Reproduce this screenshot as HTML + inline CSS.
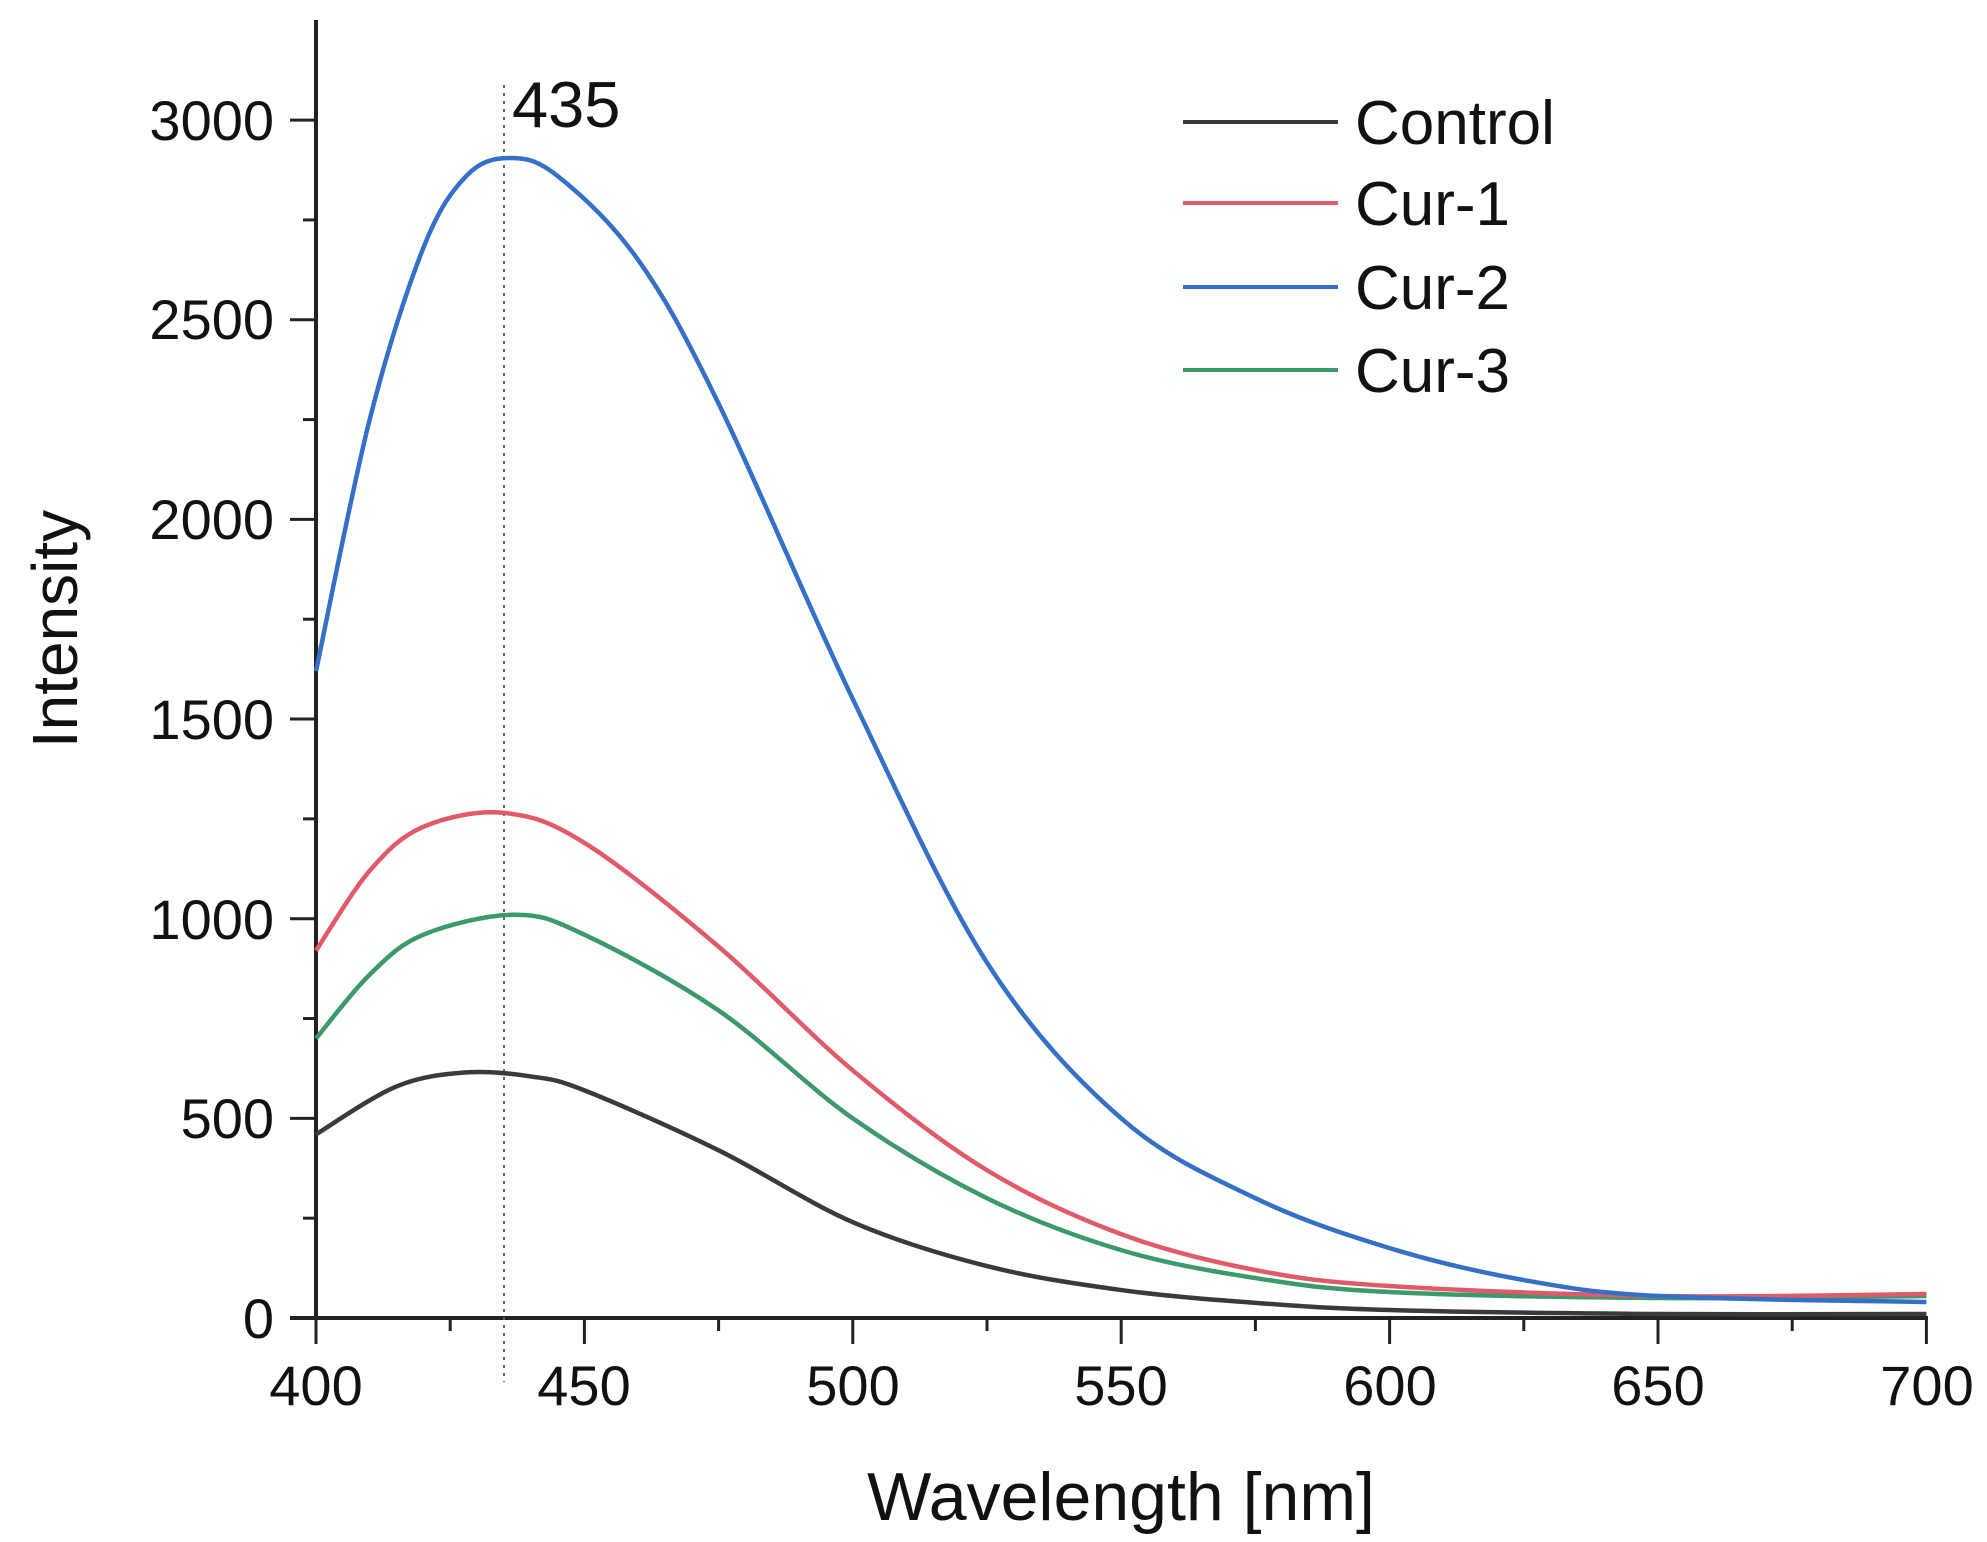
<!DOCTYPE html>
<html><head><meta charset="utf-8"><style>
html,body{margin:0;padding:0;background:#fff;}
svg{display:block;}
text{font-family:"Liberation Sans",Arial,sans-serif;fill:#111;}
</style></head><body>
<svg id="s" width="1987" height="1542" viewBox="0 0 1987 1542" xmlns="http://www.w3.org/2000/svg">
<g id="ticks" stroke="#222" stroke-width="3" fill="none"></g>
<line x1="316" y1="20" x2="316" y2="1318" stroke="#222" stroke-width="4"/>
<line x1="290" y1="1318" x2="1928" y2="1318" stroke="#222" stroke-width="4"/>
<line x1="504" y1="85" x2="504" y2="1382" stroke="#666" stroke-width="2" stroke-dasharray="3,5"/>
<g id="curves" fill="none" stroke-width="4.5" stroke-linejoin="round"></g>
<g font-size="56" text-anchor="end">
<text x="274" y="1338">0</text><text x="274" y="1138">500</text><text x="274" y="939">1000</text><text x="274" y="739">1500</text><text x="274" y="539">2000</text><text x="274" y="339">2500</text><text x="274" y="140">3000</text>
</g>
<g font-size="56" text-anchor="middle">
<text x="316" y="1405">400</text><text x="584" y="1405">450</text><text x="853" y="1405">500</text><text x="1121" y="1405">550</text><text x="1390" y="1405">600</text><text x="1658" y="1405">650</text><text x="1927" y="1405">700</text>
</g>
<text x="512" y="127" font-size="65">435</text>
<text x="1121" y="1520" font-size="68" text-anchor="middle">Wavelength [nm]</text>
<text transform="translate(77,629) rotate(-90)" font-size="64" text-anchor="middle">Intensity</text>
<g stroke-width="4">
<line x1="1183" y1="122" x2="1338" y2="122" stroke="#3a3a3a"/>
<line x1="1183" y1="203" x2="1338" y2="203" stroke="#e05a6a"/>
<line x1="1183" y1="287" x2="1338" y2="287" stroke="#3570c8"/>
<line x1="1183" y1="370" x2="1338" y2="370" stroke="#3a9a6a"/>
</g>
<g font-size="62">
<text x="1355" y="144">Control</text><text x="1355" y="225">Cur-1</text><text x="1355" y="309">Cur-2</text><text x="1355" y="392">Cur-3</text>
</g>
</svg>
<script>
var X=function(n){return 316+(n-400)*5.368;},Y=function(i){return 1318-i*0.3993;};
var t=document.getElementById('ticks'),h='';
for(var n=400;n<=700;n+=25){var L=(n%50==0)?26:13;h+='<line x1="'+X(n)+'" y1="1318" x2="'+X(n)+'" y2="'+(1318+L)+'"/>';}
for(var v=0;v<=3000;v+=250){var L=(v%500==0)?26:13;h+='<line x1="'+(316-L)+'" y1="'+Y(v)+'" x2="316" y2="'+Y(v)+'"/>';}
t.innerHTML=h;
var data=[
['#3a3a3a',[[400,460],[415,580],[428,615],[440,605],[450,570],[475,420],[500,240],[525,130],[550,70],[575,38],[600,20],[650,10],[700,10]]],
['#3a9a6a',[[400,700],[410,860],[420,960],[437,1010],[450,960],[475,770],[500,500],[525,300],[550,170],[575,100],[600,65],[650,50],[700,55]]],
['#e05a6a',[[400,920],[410,1120],[420,1230],[435,1265],[450,1190],[475,930],[500,620],[525,370],[550,210],[575,120],[600,80],[650,55],[700,60]]],
['#3570c8',[[400,1620],[410,2250],[420,2680],[428,2860],[436,2905],[445,2860],[460,2650],[475,2290],[500,1550],[525,890],[550,500],[575,300],[600,175],[625,95],[650,55],[700,40]]]
];
var c='';
data.forEach(function(d){var p=d[1].map(function(q){return [X(q[0]),Y(q[1])];});
var s='M'+p[0][0]+','+p[0][1];
for(var i=0;i<p.length-1;i++){var p0=p[i-1]||p[i],p1=p[i],p2=p[i+1],p3=p[i+2]||p2;
s+=' C'+(p1[0]+(p2[0]-p0[0])/6)+','+(p1[1]+(p2[1]-p0[1])/6)+' '+(p2[0]-(p3[0]-p1[0])/6)+','+(p2[1]-(p3[1]-p1[1])/6)+' '+p2[0]+','+p2[1];}
c+='<path d="'+s+'" stroke="'+d[0]+'"/>';});
document.getElementById('curves').innerHTML=c;
</script>
</body></html>
